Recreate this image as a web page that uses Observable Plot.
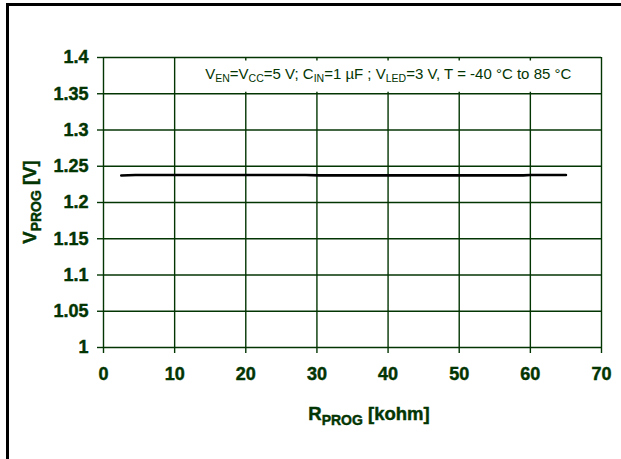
<!DOCTYPE html>
<html>
<head>
<meta charset="utf-8">
<script src="https://cdn.jsdelivr.net/npm/d3@7"></script>
<script src="https://cdn.jsdelivr.net/npm/@observablehq/plot@0.6"></script>
<style>
  html, body { margin: 0; padding: 0; background: #ffffff; }
  #wrap { position: relative; width: 621px; height: 459px; overflow: hidden; }
  #frame { position: absolute; left: 6px; top: 3px; width: 620px; height: 460px;
           border-top: 3px solid #000; border-left: 3px solid #000; box-sizing: border-box; }
  #chart { position: absolute; left: 0; top: 0; }
  .heavy text, text.heavy { stroke: #033503; stroke-width: 0.45px; paint-order: stroke; }
</style>
</head>
<body>
<div id="wrap"><div id="frame"></div><div id="chart"></div></div>
<script>
// ---- data ----
const xTicks = [0, 10, 20, 30, 40, 50, 60, 70];
const yTicks = [1, 1.05, 1.1, 1.15, 1.2, 1.25, 1.3, 1.35, 1.4];
const yTickLabels = ["1", "1.05", "1.1", "1.15", "1.2", "1.25", "1.3", "1.35", "1.4"];
const rProg = [2.5, 4.5, 28.4, 30.3, 59, 60, 65];          // kohm
const vProg = [1.2372, 1.2379, 1.2379, 1.2374, 1.2374, 1.2379, 1.2379]; // V
const xLabelSegments = [["R", ""], ["PROG", "sub"], [" [kohm]", ""]];
const yLabelSegments = [["V", ""], ["PROG", "sub"], [" [V]", ""]];
const noteSegments = [
  ["V", ""], ["EN", "sub"], ["=V", ""], ["CC", "sub"], ["=5 V; C", ""], ["IN", "sub"],
  ["=1 µF ; V", ""], ["LED", "sub"], ["=3 V, T = -40 °C to 85 °C", ""]
];

const green = "#033503";
const points = rProg.map((r, i) => ({r, v: vProg[i]}));
const noteBox = [{x1: 11.6, x2: 70, y1: 1.35, y2: 1.4}];

const svg = Plot.plot({
  width: 621,
  height: 459,
  marginLeft: 103,
  marginRight: 20,
  marginTop: 57,
  marginBottom: 112,
  style: {fontFamily: "'Liberation Sans', Arial, Helvetica, sans-serif", color: green, background: "transparent", overflow: "visible"},
  x: {domain: [0, 70], label: null},
  y: {domain: [1, 1.4], label: null},
  marks: [
    Plot.gridX(xTicks, {stroke: green, strokeOpacity: 1, strokeWidth: 1.4}),
    Plot.gridY(yTicks, {stroke: green, strokeOpacity: 1, strokeWidth: 1.4}),
    Plot.rect(noteBox, {x1: d => d.x1, x2: d => d.x2, y1: d => d.y1, y2: d => d.y2,
      fill: "white", insetTop: 3.5, insetBottom: 1.5, insetRight: 1.2}),
    Plot.axisX({ticks: xTicks, tickSize: 6, tickPadding: 14, fontSize: 18, fontWeight: "bold",
      tickFormat: d => String(d), strokeWidth: 1.4, label: null, className: "heavy"}),
    Plot.axisY({ticks: yTicks, tickSize: 6, tickPadding: 9, fontSize: 18, fontWeight: "bold",
      tickFormat: d => yTickLabels[yTicks.indexOf(d)], strokeWidth: 1.4, label: null, className: "heavy"}),
    Plot.line(points, {x: "r", y: "v", stroke: "#000", strokeWidth: 2.6, curve: "linear"})
  ]
});
document.getElementById("chart").appendChild(svg);

// ---- rich text labels with subscripts ----
function richText(sel, segments, size, subSize, subShift) {
  let sub = false;
  for (const [t, kind] of segments) {
    const ts = sel.append("tspan").text(t);
    if (kind === "sub" && !sub) { ts.attr("dy", subShift).attr("font-size", subSize); sub = true; }
    else if (kind === "sub") { ts.attr("font-size", subSize); }
    else if (sub) { ts.attr("dy", -subShift).attr("font-size", size); sub = false; }
    else { ts.attr("font-size", size); }
  }
}
const sx = svg.scale("x"), sy = svg.scale("y");
const root = d3.select(svg);
const midX = (sx.apply(0) + sx.apply(70)) / 2;
const midY = (sy.apply(1) + sy.apply(1.4)) / 2;

const xl = root.append("text").attr("class", "heavy")
  .attr("x", midX + 17).attr("y", sy.apply(1) + 73)
  .attr("text-anchor", "middle").attr("font-weight", "bold").attr("fill", green);
richText(xl, xLabelSegments, 18.5, 14, 4.5);

const yl = root.append("text").attr("class", "heavy")
  .attr("transform", `translate(${36},${midY}) rotate(-90)`)
  .attr("text-anchor", "middle").attr("font-weight", "bold").attr("fill", green);
richText(yl, yLabelSegments, 18.5, 14, 4.5);

const note = root.append("text")
  .attr("x", (sx.apply(11.6) + sx.apply(70)) / 2 - 5).attr("y", sy.apply(1.4) + 22)
  .attr("text-anchor", "middle").attr("fill", green);
richText(note, noteSegments, 15, 10.5, 3);
</script>
</body>
</html>
